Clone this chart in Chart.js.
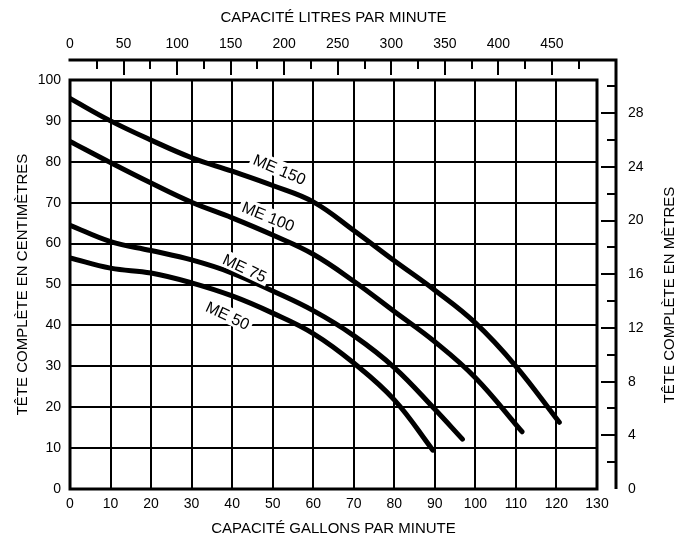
<!DOCTYPE html>
<html>
<head>
<meta charset="utf-8">
<script src="https://cdn.jsdelivr.net/npm/chart.js@4"></script>
<style>
html,body{margin:0;padding:0;background:#fff;}
#wrap{width:688px;height:541px;}
</style>
</head>
<body>
<div id="wrap"><canvas id="c" width="688" height="541"></canvas></div>
<script>
// capacity in US gallons per minute, head in feet (left scale)
const me150Gpm = [0, 10, 20, 30, 40, 50, 60, 70, 80, 90, 100, 110, 120.7];
const me150Head = [95.5, 90, 85.3, 81, 77.7, 74.2, 70.2, 63.2, 55.8, 48.6, 40.6, 30, 16.3];
const me100Gpm = [0, 10, 20, 30, 40, 50, 60, 70, 80, 90, 100, 111.5];
const me100Head = [85, 79.8, 74.8, 70.1, 66.3, 62.1, 57.4, 50.8, 43.4, 36, 27.2, 14];
const me75Gpm = [0, 10, 20, 30, 40, 50, 60, 70, 80, 90, 96.8];
const me75Head = [64.5, 60.5, 58.3, 56, 52.8, 48.4, 43.6, 37.5, 29.7, 19.5, 12.2];
const me50Gpm = [0, 10, 20, 30, 40, 50, 60, 70, 80, 89.5];
const me50Head = [56.5, 54, 52.8, 50.4, 47.2, 43, 38, 30.8, 21.8, 9.5];

const seriesNames = ['ME 150', 'ME 100', 'ME 75', 'ME 50'];
// label anchor (gpm, ft) and angle in degrees
const labelGpm = [51.7, 48.9, 43.1, 38.9];
const labelHead = [78.1, 66.6, 54, 42.4];
const labelAngle = [23, 22, 25, 25];

const L_PER_GAL = 3.78541;
const M_PER_FT = 0.3048;
const FONT = '"Liberation Sans", Arial, Helvetica, sans-serif';

function pts(xs, ys){ return xs.map((x, i) => ({x, y: ys[i]})); }

const outerAxes = {
	id: 'outerAxes',
	afterDatasetsDraw(chart){
		const ctx = chart.ctx;
		const a = chart.chartArea;
		const top = chart.scales.xTop;
		const right = chart.scales.yRight;
		const lineY = 60, lineX = 616;
		ctx.save();
		ctx.strokeStyle = '#000';
		ctx.lineCap = 'butt';
		// plot frame
		ctx.lineWidth = 3;
		ctx.strokeRect(a.left, a.top, a.right - a.left, a.bottom - a.top);
		// outer axis lines
		ctx.beginPath();
		ctx.moveTo(a.left - 1.5, lineY);
		ctx.lineTo(lineX, lineY);
		ctx.lineTo(lineX, a.bottom);
		ctx.stroke();
		ctx.lineWidth = 2;
		for(let l = 25; l < 490; l += 25){
			const x = Math.round(top.getPixelForValue(l));
			const len = l % 50 === 0 ? 15 : 9;
			ctx.beginPath();
			ctx.moveTo(x, lineY);
			ctx.lineTo(x, lineY + len);
			ctx.stroke();
		}
		for(let m = 2; m <= 30; m += 2){
			const y = Math.round(right.getPixelForValue(m));
			const len = m % 4 === 0 ? 15 : 9;
			ctx.beginPath();
			ctx.moveTo(lineX, y);
			ctx.lineTo(lineX - len, y);
			ctx.stroke();
		}
		// right title, reading upwards
		ctx.fillStyle = '#000';
		ctx.font = '15px ' + FONT;
		ctx.textAlign = 'center';
		ctx.textBaseline = 'middle';
		ctx.translate(670, 295);
		ctx.rotate(-Math.PI / 2);
		ctx.fillText('TÊTE COMPLÈTE EN MÈTRES', 0, 0);
		ctx.restore();

		// curve labels
		const xs = chart.scales.x, ys = chart.scales.y;
		ctx.save();
		ctx.font = '16px ' + FONT;
		ctx.textAlign = 'center';
		ctx.textBaseline = 'middle';
		seriesNames.forEach((name, i) => {
			const px = xs.getPixelForValue(labelGpm[i]);
			const py = ys.getPixelForValue(labelHead[i]);
			const w = ctx.measureText(name).width;
			ctx.save();
			ctx.translate(px, py);
			ctx.rotate(labelAngle[i] * Math.PI / 180);
			ctx.fillStyle = '#fff';
			ctx.fillRect(-w / 2 - 3, -9, w + 6, 17);
			ctx.fillStyle = '#000';
			ctx.fillText(name, 0, 1);
			ctx.restore();
		});
		ctx.restore();
	}
};

const lineStyle = {
	borderColor: '#000',
	borderWidth: 5,
	pointRadius: 0,
	showLine: true,
	fill: false,
	tension: 0.4,
	borderCapStyle: 'round',
	borderJoinStyle: 'round'
};

new Chart(document.getElementById('c'), {
	type: 'scatter',
	data: {
		datasets: [
			{label: seriesNames[0], data: pts(me150Gpm, me150Head), ...lineStyle},
			{label: seriesNames[1], data: pts(me100Gpm, me100Head), ...lineStyle},
			{label: seriesNames[2], data: pts(me75Gpm, me75Head), ...lineStyle},
			{label: seriesNames[3], data: pts(me50Gpm, me50Head), ...lineStyle}
		]
	},
	options: {
		responsive: false,
		animation: false,
		layout: {padding: 0},
		plugins: {legend: {display: false}, tooltip: {enabled: false}},
		scales: {
			x: {
				type: 'linear', position: 'bottom', min: 0, max: 130,
				ticks: {stepSize: 10, color: '#000', font: {family: FONT, size: 14}, padding: 7, maxRotation: 0},
				grid: {color: '#000', lineWidth: 2, drawTicks: false},
				border: {display: false},
				title: {display: true, text: 'CAPACITÉ GALLONS PAR MINUTE', color: '#000', font: {family: FONT, size: 15}, padding: {top: 0, bottom: 3}},
				afterFit(s){ s.height = 52; }
			},
			y: {
				type: 'linear', position: 'left', min: 0, max: 100,
				ticks: {stepSize: 10, color: '#000', font: {family: FONT, size: 14}, padding: 9},
				grid: {color: '#000', lineWidth: 2, drawTicks: false},
				border: {display: false},
				title: {display: true, text: 'TÊTE COMPLÈTE EN CENTIMÈTRES', color: '#000', font: {family: FONT, size: 15}, padding: {top: 14, bottom: 0}},
				afterFit(s){ s.width = 70; }
			},
			xTop: {
				type: 'linear', position: 'top', min: 0, max: 130 * L_PER_GAL,
				ticks: {stepSize: 50, includeBounds: false, color: '#000', font: {family: FONT, size: 14}, padding: 27, maxRotation: 0},
				grid: {display: false, drawTicks: false},
				border: {display: false},
				title: {display: true, text: 'CAPACITÉ LITRES PAR MINUTE', color: '#000', font: {family: FONT, size: 15}, padding: {top: 9, bottom: 0}},
				afterFit(s){ s.height = 80; }
			},
			yRight: {
				type: 'linear', position: 'right', min: 0, max: 100 * M_PER_FT,
				ticks: {stepSize: 4, includeBounds: false, color: '#000', font: {family: FONT, size: 14}, padding: 31},
				grid: {display: false, drawTicks: false},
				border: {display: false},
				afterFit(s){ s.width = 91; }
			}
		}
	},
	plugins: [outerAxes]
});
</script>
</body>
</html>
